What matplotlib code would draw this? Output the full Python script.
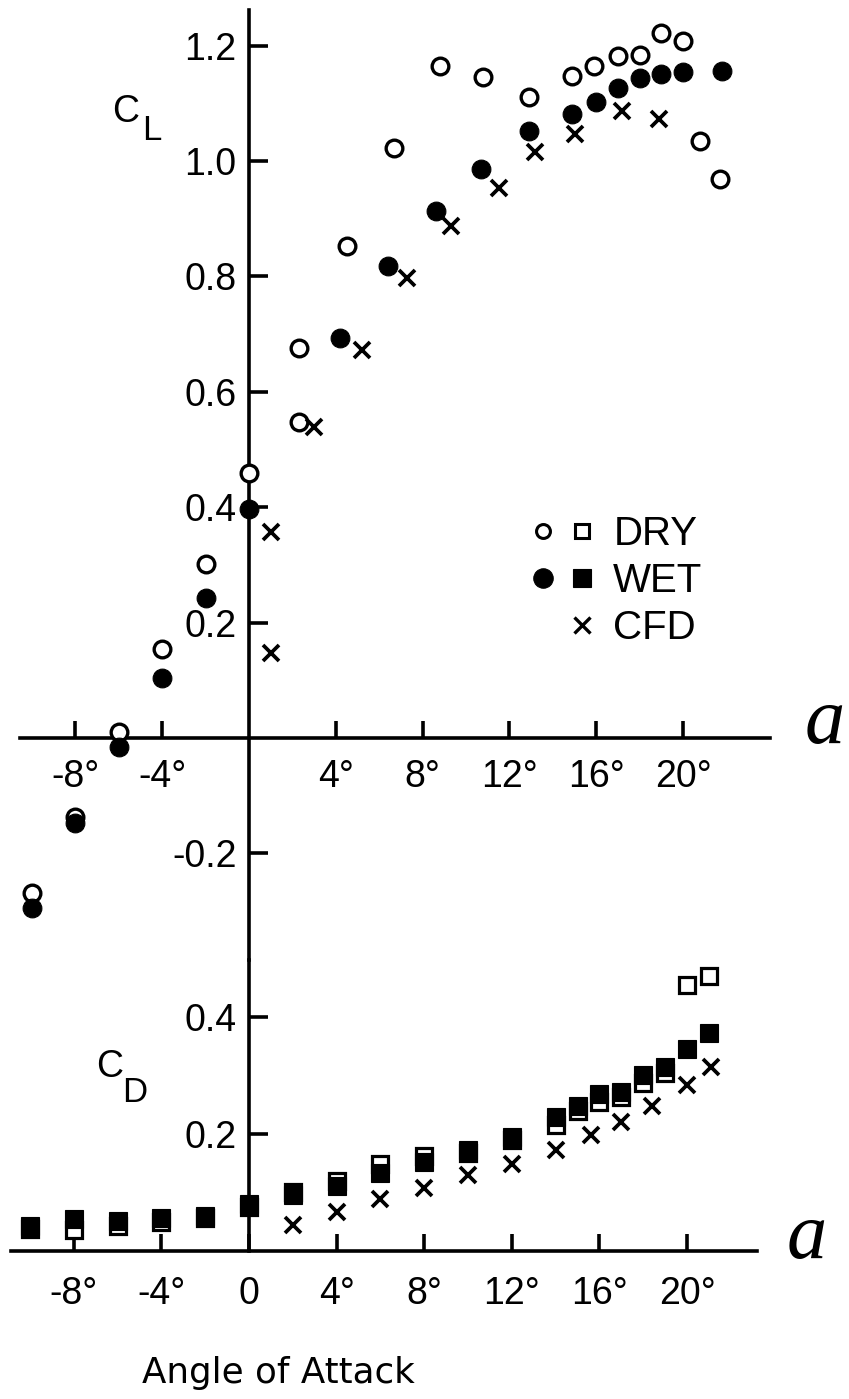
import matplotlib
matplotlib.use("Agg")
import matplotlib.pyplot as plt
from matplotlib.lines import Line2D
from matplotlib.legend_handler import HandlerTuple

# ---------------- data ----------------
# Lift coefficient C_L vs angle of attack (deg)
cl_dry_alpha = [-10, -8, -6, -4, -2, 0, 2.3, 2.3, 4.5, 6.7, 8.8, 10.8, 12.9,
                14.9, 15.9, 17.0, 18.0, 19.0, 20.0, 20.8, 21.7]
cl_dry = [-0.268, -0.137, 0.010, 0.154, 0.302, 0.459, 0.676, 0.548, 0.853,
          1.022, 1.165, 1.146, 1.111, 1.148, 1.165, 1.182, 1.184, 1.222,
          1.208, 1.035, 0.969]

cl_wet_alpha = [-10, -8, -6, -4, -2, 0, 4.2, 6.4, 8.6, 10.7, 12.9, 14.9,
                16.0, 17.0, 18.0, 19.0, 20.0, 21.8]
cl_wet = [-0.294, -0.147, -0.016, 0.104, 0.243, 0.397, 0.693, 0.818, 0.913,
          0.986, 1.052, 1.081, 1.102, 1.127, 1.144, 1.151, 1.154, 1.156]

cl_cfd_alpha = [1.0, 1.0, 3.0, 5.2, 7.3, 9.3, 11.5, 13.2, 15.0, 17.2, 18.9]
cl_cfd = [0.147, 0.357, 0.539, 0.672, 0.797, 0.887, 0.953, 1.016, 1.047,
          1.087, 1.073]

# Drag coefficient C_D vs angle of attack (deg)
cd_alpha = [-10, -8, -6, -4, -2, 0, 2, 4, 6, 8, 10, 12, 14, 15, 16, 17, 18,
            19, 20, 21]
cd_dry = [0.038, 0.036, 0.043, 0.049, 0.057, 0.075, 0.100, 0.120, 0.148,
          0.162, 0.167, 0.189, 0.216, 0.239, 0.255, 0.263, 0.288, 0.304,
          0.454, 0.470]
cd_wet = [0.043, 0.054, 0.051, 0.057, 0.059, 0.080, 0.095, 0.111, 0.133,
          0.152, 0.172, 0.195, 0.229, 0.248, 0.268, 0.271, 0.300, 0.314,
          0.346, 0.373]

cd_cfd_alpha = [2, 4, 6, 8, 10, 12, 14, 15.6, 17, 18.4, 20, 21.1]
cd_cfd = [0.044, 0.066, 0.089, 0.108, 0.130, 0.149, 0.172, 0.198, 0.221,
          0.248, 0.284, 0.314]

top_xticks = [-8, -4, 4, 8, 12, 16, 20]
top_xlabels = ["-8°", "-4°", "4°", "8°", "12°", "16°", "20°"]
top_yticks = [-0.2, 0.2, 0.4, 0.6, 0.8, 1.0, 1.2]
top_ylabels = ["-0.2", "0.2", "0.4", "0.6", "0.8", "1.0", "1.2"]
bot_xticks = [-8, -4, 0, 4, 8, 12, 16, 20]
bot_xlabels = ["-8°", "-4°", "0", "4°", "8°", "12°", "16°", "20°"]
bot_yticks = [0.2, 0.4]
bot_ylabels = ["0.2", "0.4"]
legend_labels = ["DRY", "WET", "CFD"]

# ---------------- figure ----------------
W, H = 849, 1399
fig = plt.figure(figsize=(W / 100, H / 100), dpi=100)
fig.patch.set_facecolor("white")


def fx(px):
    return px / W


def fy(py):
    return 1 - py / H


TICKFONT = "Liberation Sans"
LW = 2.6

# ---- top axes (C_L) ----
ax1 = fig.add_axes([fx(20), fy(960), (770 - 20) / W, (960 - 10) / H])
ax1.set_xlim(-10.553, 24.009)
ax1.set_ylim(-0.3847, 1.2617)
ax1.patch.set_alpha(0)
for s in ["top", "right"]:
    ax1.spines[s].set_visible(False)
ax1.spines["left"].set_position(("data", 0))
ax1.spines["bottom"].set_position(("data", 0))
for s in ["left", "bottom"]:
    ax1.spines[s].set_linewidth(LW)
ax1.set_xticks(top_xticks)
ax1.set_xticklabels(top_xlabels, fontsize=27, family=TICKFONT)
ax1.set_yticks(top_yticks)
ax1.set_yticklabels(top_ylabels, fontsize=27, family=TICKFONT)
ax1.tick_params(axis="x", direction="in", length=12, width=LW, pad=15)
ax1.tick_params(axis="y", direction="in", length=14, width=LW, pad=9)

ax1.plot(cl_dry_alpha, cl_dry, ls="none", marker="o", ms=12, mfc="white",
         mec="black", mew=2.4, clip_on=False, zorder=3)
ax1.plot(cl_wet_alpha, cl_wet, ls="none", marker="o", ms=13.5, mfc="black",
         mec="black", mew=0.8, clip_on=False, zorder=4)
ax1.plot(cl_cfd_alpha, cl_cfd, ls="none", marker="x", ms=11, mew=2.7,
         color="black", clip_on=False, zorder=4)

# legend
h_dry = (Line2D([], [], ls="none", marker="o", ms=10, mfc="white", mec="k", mew=2.2),
         Line2D([], [], ls="none", marker="s", ms=10, mfc="white", mec="k", mew=2.2))
h_wet = (Line2D([], [], ls="none", marker="o", ms=14, mfc="k", mec="k", mew=0.8),
         Line2D([], [], ls="none", marker="s", ms=13, mfc="k", mec="k", mew=0.8))
h_cfd = (Line2D([], [], ls="none", marker="None"),
         Line2D([], [], ls="none", marker="x", ms=11, mew=2.4, color="k"))
ax1.legend([h_dry, h_wet, h_cfd], legend_labels,
           handler_map={tuple: HandlerTuple(ndivide=None, pad=0)},
           frameon=False, prop={"family": TICKFONT, "size": 29},
           handlelength=1.94, handletextpad=0.29, labelspacing=0.22,
           borderpad=0, borderaxespad=0, loc="upper left",
           bbox_to_anchor=(fx(523.5), fy(515)), bbox_transform=fig.transFigure)

# ---- bottom axes (C_D) ----
ax2 = fig.add_axes([fx(11), fy(1251), (757 - 11) / W, (1251 - 960) / H])
ax2.set_xlim(-10.868, 23.196)
ax2.set_ylim(0, 0.4974)
ax2.patch.set_alpha(0)
for s in ["top", "right"]:
    ax2.spines[s].set_visible(False)
ax2.spines["left"].set_position(("data", 0))
for s in ["left", "bottom"]:
    ax2.spines[s].set_linewidth(LW)
ax2.set_xticks(bot_xticks)
ax2.set_xticklabels(bot_xlabels, fontsize=27, family=TICKFONT)
ax2.set_yticks(bot_yticks)
ax2.set_yticklabels(bot_ylabels, fontsize=27, family=TICKFONT)
ax2.tick_params(axis="x", direction="in", length=12, width=LW, pad=18)
ax2.tick_params(axis="y", direction="in", length=14, width=LW, pad=9)

ax2.plot(cd_alpha, cd_dry, ls="none", marker="s", ms=11, mfc="white",
         mec="black", mew=2.3, clip_on=False, zorder=3)
ax2.plot(cd_alpha, cd_wet, ls="none", marker="s", ms=12.5, mfc="black",
         mec="black", mew=0.8, clip_on=False, zorder=4)
ax2.plot(cd_cfd_alpha, cd_cfd, ls="none", marker="x", ms=11, mew=2.7,
         color="black", clip_on=False, zorder=4)

# ---- texts ----
fig.text(fx(112), fy(122), "C", fontsize=27, family=TICKFONT, ha="left", va="baseline")
fig.text(fx(142), fy(140), "L", fontsize=25, family=TICKFONT, ha="left", va="baseline")
fig.text(fx(96), fy(1077), "C", fontsize=27, family=TICKFONT, ha="left", va="baseline")
fig.text(fx(122), fy(1102), "D", fontsize=25, family=TICKFONT, ha="left", va="baseline")
fig.text(fx(805), fy(743), "a", fontsize=58, family="Liberation Serif",
         style="italic", ha="left", va="baseline")
fig.text(fx(787), fy(1258), "a", fontsize=58, family="Liberation Serif",
         style="italic", ha="left", va="baseline")
fig.text(fx(278), fy(1383), "Angle of Attack", fontsize=25.7, family="DejaVu Sans",
         ha="center", va="baseline")

fig.savefig("out.png", dpi=100, facecolor="white")
